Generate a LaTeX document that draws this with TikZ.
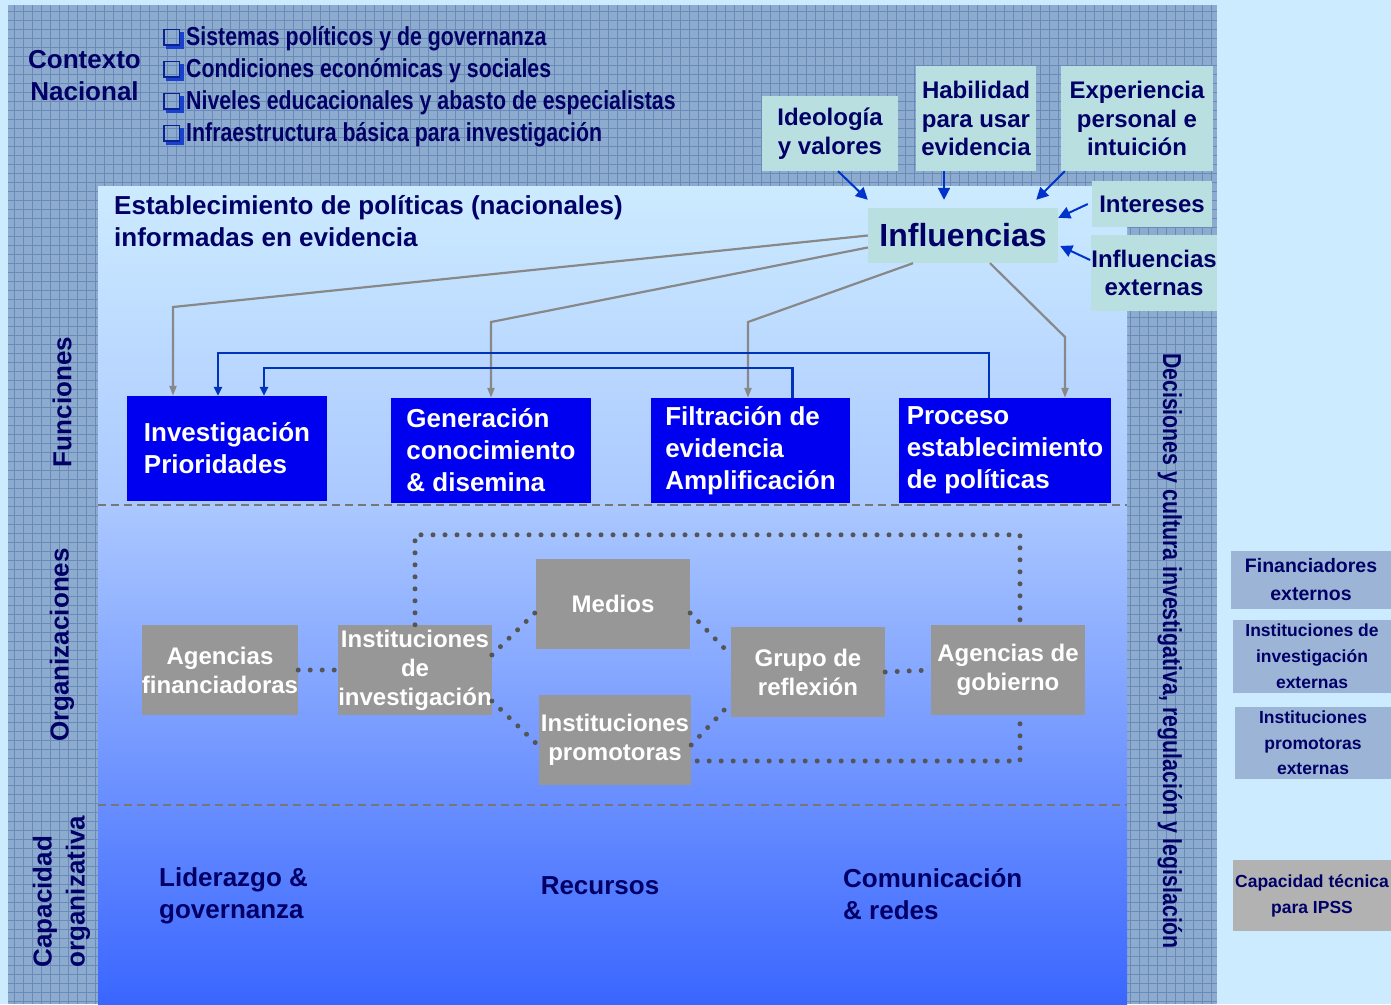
\documentclass[tikz,border=0pt]{standalone}
\usepackage{fontspec}
\setmainfont{Liberation Sans}
\newfontfamily\narrowfont{Liberation Sans}[FakeStretch=0.82]
\usepackage{tikz}
\usetikzlibrary{positioning}
\usetikzlibrary{arrows.meta}

\definecolor{pagebg}{HTML}{CCEBFF}
\definecolor{hatchbase}{HTML}{8CABCF}
\definecolor{hatchline}{HTML}{6A8BB8}
\definecolor{topblue}{HTML}{CCEBFF}
\definecolor{midblue}{HTML}{ABC8FF}
\definecolor{botblue}{HTML}{3A66FF}
\definecolor{navy}{HTML}{000066}
\definecolor{infcyan}{HTML}{B9DFE0}
\definecolor{funcblue}{HTML}{0000F0}
\definecolor{orggray}{HTML}{979797}
\definecolor{extblue}{HTML}{9CB5D6}
\definecolor{capgray}{HTML}{B2B2B2}
\definecolor{arrowblue}{HTML}{0033CC}
\definecolor{feedblue}{HTML}{0033BB}
\definecolor{linkgray}{HTML}{888888}
\definecolor{dotgray}{HTML}{555555}
\definecolor{sepgray}{HTML}{777777}
\definecolor{bulletblue}{HTML}{1A40D0}
\definecolor{bulletedge}{HTML}{0A2290}

% hollow square bullet with a shadow at the lower right
\newcommand{\sqbox}{{\color{bulletedge}%
	\rlap{\rule{17pt}{1.6pt}}%
	\rlap{\raisebox{15.4pt}{\rule{17pt}{1.6pt}}}%
	\rlap{\rule{1.6pt}{17pt}}%
	\rlap{\hspace{15.4pt}\rule{1.6pt}{17pt}}%
	\color{bulletblue}%
	\rlap{\hspace{17pt}\rule[-3pt]{3.5pt}{17pt}}%
	\rlap{\hspace{3pt}\rule[-3pt]{17.5pt}{3pt}}%
	\hspace{23pt}}}

\begin{document}
\begin{tikzpicture}[x=1pt, y=-1pt,
  every node/.style={inner sep=0pt, text=navy, font=\bfseries},
  bigtext/.style={font=\fontsize{26}{32}\selectfont\bfseries},
  infbox/.style={fill=infcyan, align=center, font=\fontsize{24}{28.5}\selectfont\bfseries},
  funcbox/.style={fill=funcblue, text=white, align=left, minimum height=105pt, font=\fontsize{26}{32}\selectfont\bfseries},
  orgbox/.style={fill=orggray, text=white, align=center, minimum width=154pt, minimum height=90pt, font=\fontsize{24}{29}\selectfont\bfseries},
  extbox/.style={fill=extblue, align=center, minimum width=158pt, font=\fontsize{17.5}{26}\selectfont\bfseries},
  inarrow/.style={draw=arrowblue, line width=2pt, -{Triangle[length=12pt, width=12pt]}},
  feedline/.style={draw=feedblue, line width=2.4pt, -{Triangle[length=9pt, width=8pt]}},
  grayline/.style={draw=linkgray, line width=2.2pt, -{Triangle[length=10pt, width=7pt]}},
  dotline/.style={draw=dotgray, line width=5pt, line cap=round, dash pattern=on 0pt off 12pt},
  sepline/.style={draw=sepgray, line width=1.6pt, dash pattern=on 8pt off 5pt}]

	\fill[pagebg] (0,0) rectangle (1391,1004);
	\fill[hatchbase] (8,5) rectangle (1217,1004);
	\foreach \gx in {14,23,...,1214} \draw[hatchline, line width=1pt] (\gx,5) -- (\gx,1004);
	\foreach \gy in {11,20,...,1001} \draw[hatchline, line width=1pt] (8,\gy) -- (1217,\gy);
	\shade[top color=topblue, bottom color=midblue] (98,186) rectangle (1127,505);
	\shade[top color=midblue, bottom color=botblue] (98,505) rectangle (1127,1004);
	\draw[sepline] (98,505) -- (1127,505); \draw[sepline] (98,805) -- (1127,805);

	\node (contexto) at (84.5,76) [bigtext, align=center] {Contexto\\Nacional};
	\node (factores) at (163,87) [anchor=west, align=left, font=\narrowfont\fontsize{26}{32}\selectfont\bfseries] {\sqbox Sistemas políticos y de governanza\\\sqbox Condiciones económicas y sociales\\\sqbox Niveles educacionales y abasto de especialistas\\\sqbox Infraestructura básica para investigación};
	\node (titulo) at (114,221) [anchor=west, bigtext, align=left] {Establecimiento de políticas (nacionales)\\informadas en evidencia};

	\node (ideo) at (830,133.5) [infbox, minimum width=136pt, minimum height=75pt] {Ideología\\y valores};
	\node (habil) at (976,118.5) [infbox, minimum width=120pt, minimum height=105pt] {Habilidad\\para usar\\evidencia};
	\node (exper) at (1137,118.5) [infbox, minimum width=152pt, minimum height=105pt] {Experiencia\\personal e\\intuición};
	\node (influ) at (963,235.5) [infbox, minimum width=190pt, minimum height=55pt, font=\fontsize{32}{36}\selectfont\bfseries] {Influencias};
	\node (inter) at (1152,204) [infbox, minimum width=120pt, minimum height=46pt] {Intereses};
	\node (extinf) at (1154,273) [infbox, minimum width=122pt, minimum height=76pt] {Influencias\\externas};

	\draw[inarrow] ([xshift=8]ideo.south) -- ([yshift=8]influ.north west);
	\draw[inarrow] ([xshift=-32]habil.south) -- ([xshift=-19,yshift=8]influ.north);
	\draw[inarrow] ([xshift=4]exper.south west) -- ([xshift=-22,yshift=8]influ.north east);
	\draw[inarrow] ([xshift=-4]inter.west) -- ([yshift=-10]influ.north east);
	\draw[inarrow] ([xshift=-1,yshift=13]extinf.west) -- ([xshift=2,yshift=-10.5]influ.east);

	\node (inv) at (227,448.5) [funcbox, minimum width=200pt] {Investigación\\Prioridades};
	\node (gen) at (491,450.5) [funcbox, minimum width=200pt] {Generación\\conocimiento\\\& disemina};
	\node (filt) at (750.5,450.5) [funcbox, minimum width=199pt] {Filtración de\\evidencia\\Amplificación};
	\node (proc) at (1005,450.5) [funcbox, minimum width=212pt] {Proceso\\establecimiento\\de políticas};

	\draw[grayline] (influ.west) -- (173,307) -- (inv.north -| 173,0);
	\draw[grayline] ([yshift=-12]influ.west) -- (491,322) -- (gen.north);
	\draw[grayline] ([xshift=-50]influ.south) -- (748,322) -- (filt.north -| 748,0);
	\draw[grayline] ([xshift=27]influ.south) -- (1065,337) -- (proc.north -| 1065,0);
	\draw[feedline] ([xshift=-16]proc.north) -- ++(0,-45) -| (inv.north -| 218,0);
	\draw[feedline] ([xshift=42]filt.north) -- ++(0,-30) -| (inv.north -| 264,0);

	\node (agfin) at (220,670) [orgbox] {Agencias\\financiadoras};
	\node (inst) at (415,670) [orgbox, minimum width=152pt] {Instituciones\\de\\investigación};
	\node (medios) at (613,604) [orgbox] {Medios};
	\node (promo) at (615,740) [orgbox, minimum width=152pt] {Instituciones\\promotoras};
	\node (grupo) at (808,672) [orgbox] {Grupo de\\reflexión};
	\node (gob) at (1008,670) [orgbox] {Agencias de\\gobierno};

	\draw[dotline] (agfin.east) -- (inst.west);
	\draw[dotline] (inst.north) -- ++(0,-90) -| ([xshift=12]gob.north);
	\draw[dotline] ([yshift=15]inst.east) -- ([yshift=-8]medios.west);
	\draw[dotline] ([yshift=-31]inst.east) -- ([yshift=-6]promo.west);
	\draw[dotline] ([yshift=-9]medios.east) -- ([yshift=17]grupo.west);
	\draw[dotline] ([yshift=-5]promo.east) -- ([yshift=-31]grupo.west);
	\draw[dotline] (grupo.east) -- (gob.west);
	\draw[dotline] ([xshift=6,yshift=-21]promo.east) -| ([xshift=12]gob.south);

	\node (lider) at (159,895.5) [anchor=west, bigtext, align=left] {Liderazgo \&\\governanza};
	\node (recur) at (600,886) [bigtext] {Recursos};
	\node (comun) at (843,894.5) [anchor=west, bigtext, align=left] {Comunicación\\\& redes};

	\node (funci) at (62,402) [bigtext, rotate=90] {Funciones};
	\node (organ) at (62,645) [bigtext, rotate=90] {Organizaciones};
	\node (capac) at (61.5,891.5) [bigtext, rotate=90, align=left, font=\fontsize{26}{33}\selectfont\bfseries] {Capacidad\\organizativa};
	\node (decis) at (1170,651) [rotate=-90, font=\narrowfont\fontsize{26}{30}\selectfont\bfseries] {Decisiones y cultura investigativa, regulación y legislación};

	\node (finext) at (1311,580) [extbox, minimum width=160pt, minimum height=58pt, font=\fontsize{19.5}{28}\selectfont\bfseries] {Financiadores\\externos};
	\node (instext) at (1312,656.5) [extbox, minimum height=73pt] {Instituciones de\\investigación\\externas};
	\node (promext) at (1313,743) [extbox, minimum width=156pt, minimum height=72pt, font=\fontsize{17.5}{25.5}\selectfont\bfseries] {Instituciones\\promotoras\\externas};
	\node (capext) at (1312,895.5) [extbox, fill=capgray, minimum height=71pt] {Capacidad técnica\\para IPSS};
\end{tikzpicture}
\end{document}
